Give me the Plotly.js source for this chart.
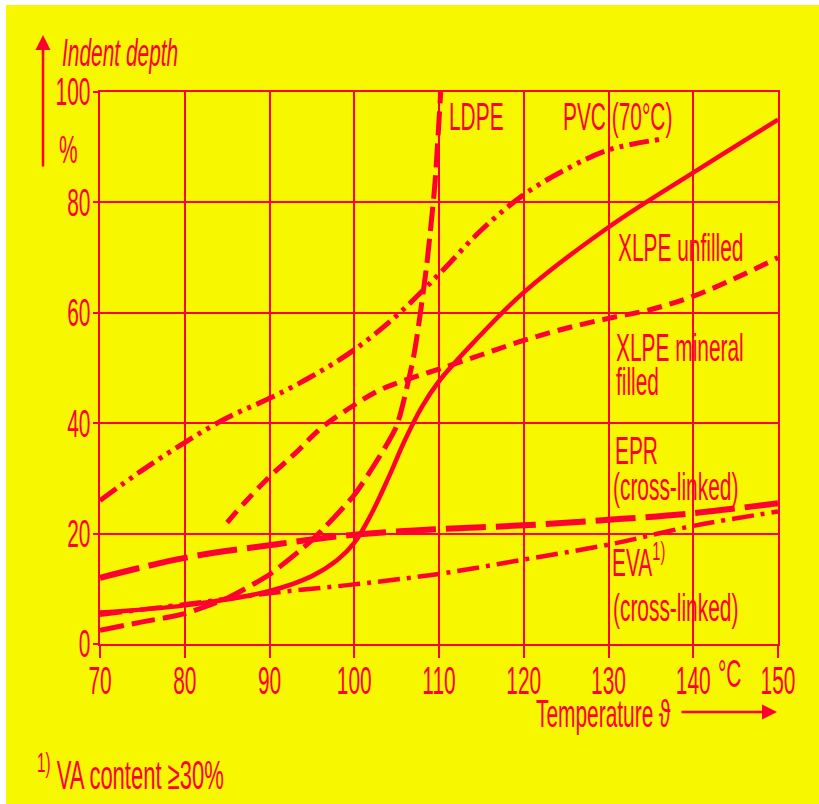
<!DOCTYPE html>
<html><head><meta charset="utf-8">
<script src="https://cdn.plot.ly/plotly-3.0.1.min.js"></script>
<style>html,body{margin:0;padding:0;background:#fff;}#chart{position:absolute;left:6px;top:5px;width:813px;height:799px;}</style>
</head><body><div id="chart"></div>
<script>
// ---- data ----
const xTicks = [70, 80, 90, 100, 110, 120, 130, 140, 150];
const yTicks = [0, 20, 40, 60, 80, 100];

const pvcT = [70, 75, 80, 85, 90, 95, 100, 105, 110, 115, 120, 125, 130, 136];
const pvcD = [26, 31.5, 36.5, 41, 44.5, 48.5, 53.3, 59.5, 67, 75, 81.4, 86, 89.5, 91.4];

const ldpeT = [70, 75, 80, 85, 90, 95, 100, 103, 105, 107, 108.5, 109.5, 110.2];
const ldpeD = [2.5, 4, 5.5, 8.3, 12.6, 18.8, 27, 34, 39.5, 52, 68, 83, 100];

const xlpeUT = [70, 80, 90, 95, 98, 100, 102, 104, 106, 108, 110, 114, 120, 130, 140, 150];
const xlpeUD = [5.7, 7, 9.6, 12.3, 15.2, 18.3, 23.5, 30, 37, 43, 47.6, 54.5, 63.7, 75.5, 85.4, 95];

const xlpeMT = [85, 87, 90, 93, 96, 100, 103, 106, 110, 115, 120, 125, 130, 135, 140, 145, 150];
const xlpeMD = [22, 25.5, 30.3, 34.5, 39, 43.3, 46, 47.8, 49.8, 52.4, 55, 57.2, 59, 60.6, 63, 66.3, 70];

const eprT = [70, 80, 90, 100, 110, 120, 130, 140, 150];
const eprD = [12, 15.6, 17.9, 19.8, 20.8, 21.5, 22.5, 23.7, 25.5];

const evaT = [70, 80, 90, 100, 110, 120, 130, 140, 150];
const evaD = [5.3, 7.2, 9.2, 10.8, 12.7, 15.3, 18, 21.4, 24];

// ---- style ----
const RED = '#ff0030';
const YEL = '#f7f700';
const FONT = 'Liberation Sans, Arial, sans-serif';
const SQUEEZE = 0.55;

function tr(x, y, dash, w, smooth) {
  return {x: x, y: y, type: 'scatter', mode: 'lines',
    line: {color: RED, width: w, dash: dash, shape: 'spline', smoothing: smooth},
    hoverinfo: 'skip'};
}
const data = [
  tr(pvcT, pvcD, '20px,6px,4px,6px,4px,6px', 5, 1),
  tr(ldpeT, ldpeD, '24px,8px', 5, 0.6),
  tr(xlpeUT, xlpeUD, 'solid', 4.5, 1),
  tr(xlpeMT, xlpeMD, '15px,8px', 5, 1),
  tr(eprT, eprD, '40px,10px', 6, 1),
  tr(evaT, evaD, '22px,7px,4px,7px', 4.5, 1)
];

// pixel -> paper helpers for text placement
const L = 100, R = 778, T = 92, B = 644;
const px = p => (p - L) / (R - L);
const py = p => (B - p) / (B - T);

const LS = 38;
function lab(text, x, y, opts) {
  return Object.assign({text: text, xref: 'paper', yref: 'paper', x: px(x), y: py(y),
    xanchor: 'left', yanchor: 'middle', showarrow: false, align: 'left',
    font: {family: FONT, size: LS, color: RED}}, opts || {});
}

const annotations = [
  lab('LDPE', 447, 117),
  lab('PVC (70°C)', 561, 117),
  lab('XLPE unfilled', 616, 248),
  lab('XLPE mineral', 614, 348),
  lab('filled', 614, 382),
  lab('EPR', 613, 451),
  lab('(cross-linked)', 611, 487),
  lab('EVA<sup>1)</sup>', 610, 560),
  lab('(cross-linked)', 611, 608),
  lab('%', 76, 150, {xanchor: 'center'}),
  lab('°C', 716, 674, {xanchor: 'left'}),
  lab('Indent depth', 60, 53, {font: {family: FONT, size: 38, color: RED, style: 'italic'}}),
  lab('Temperature ϑ', 534, 714, {font: {family: FONT, size: 38, color: RED}}),
  lab('<sup>1)</sup> VA content ≥30%', 35, 772, {font: {family: FONT, size: 40, color: RED}}),
  // arrows
  {xref: 'paper', yref: 'paper', x: px(43), y: py(35), ax: 0, ay: 133, text: '',
   showarrow: true, arrowhead: 2, arrowsize: 1.2, arrowwidth: 2.5, arrowcolor: RED},
  {xref: 'paper', yref: 'paper', x: px(777), y: py(712), ax: -97, ay: 0, text: '',
   showarrow: true, arrowhead: 2, arrowsize: 1.2, arrowwidth: 2.5, arrowcolor: RED}
];

const axisCommon = {
  showgrid: true, gridcolor: RED, gridwidth: 2,
  showline: true, mirror: true, linecolor: RED, linewidth: 2,
  zeroline: false, ticks: 'outside', tickcolor: RED, tickwidth: 2,
  tickfont: {family: FONT, size: 38, color: RED}, fixedrange: true
};

const layout = {
  width: 813, height: 799,
  margin: {l: 94, r: 41, t: 87, b: 160},
  paper_bgcolor: YEL, plot_bgcolor: YEL,
  showlegend: false,
  xaxis: Object.assign({}, axisCommon, {range: [70, 150], tickvals: xTicks,
    ticktext: xTicks.map(String), ticklen: 12, ticklabelstandoff: -10}),
  yaxis: Object.assign({}, axisCommon, {range: [0, 100], tickvals: yTicks,
    ticktext: yTicks.map(String), ticklen: 5, ticklabelstandoff: -5}),
  annotations: annotations
};

Plotly.newPlot('chart', data, layout, {staticPlot: true}).then(gd => {
  gd.querySelectorAll('text').forEach(t => {
    if (!t.textContent.trim()) return;
    const b = t.getBBox();
    const a = t.getAttribute('text-anchor') || 'start';
    const cx = a === 'middle' ? b.x + b.width / 2 : (a === 'end' ? b.x + b.width : b.x);
    const prev = t.getAttribute('transform') || '';
    t.setAttribute('transform', prev + ' translate(' + cx + ',0) scale(' + SQUEEZE + ',1) translate(' + (-cx) + ',0)');
  });
});
</script></body></html>
